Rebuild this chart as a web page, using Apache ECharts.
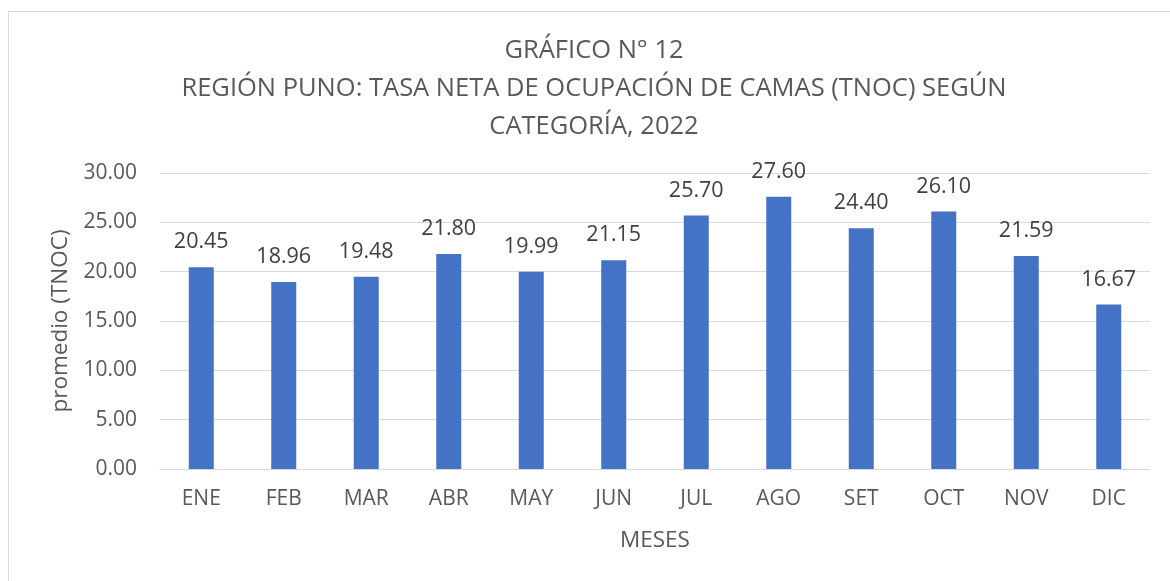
<!DOCTYPE html>
<html>
<head>
<meta charset="utf-8">
<script src="https://cdn.jsdelivr.net/npm/echarts@6/dist/echarts.min.js"></script>
<style>
  html, body { margin: 0; padding: 0; background: #fff; }
  #frame { position: absolute; left: 8px; top: 11px; width: 1180px; height: 600px; border: 1px solid #d9d9d9; box-sizing: border-box; }
  #chart { width: 1170px; height: 581px; position: absolute; left: 0; top: 0; }
</style>
</head>
<body>
<div id="frame"></div>
<div id="chart"></div>
<script>
var months = ['ENE', 'FEB', 'MAR', 'ABR', 'MAY', 'JUN', 'JUL', 'AGO', 'SET', 'OCT', 'NOV', 'DIC'];
var tnoc = [20.45, 18.96, 19.48, 21.80, 19.99, 21.15, 25.70, 27.60, 24.40, 26.10, 21.59, 16.67];

!function(){
    var myChart = echarts.init(document.getElementById('chart'));
    var font = '"Open Sans", sans-serif';
    var option = {
        backgroundColor: 'transparent',
        title: {
            text: 'GRÁFICO N° 12\nREGIÓN PUNO: TASA NETA DE OCUPACIÓN DE CAMAS (TNOC) SEGÚN\nCATEGORÍA, 2022',
            left: 589,
            top: 27,
            textAlign: 'center',
            textStyle: {
                color: '#595959',
                fontFamily: font,
                fontWeight: 'normal',
                fontSize: 25.5,
                lineHeight: 38
            }
        },
        grid: { left: 160, right: 20, top: 173, bottom: 112, containLabel: false },
        xAxis: {
            type: 'category',
            data: months,
            name: 'MESES',
            nameLocation: 'middle',
            nameGap: 60,
            nameTextStyle: { color: '#595959', fontFamily: font, fontSize: 22.5 },
            axisLine: { lineStyle: { color: '#d9d9d9', width: 1 } },
            axisTick: { show: false },
            axisLabel: { color: '#595959', fontFamily: font, fontSize: 21, margin: 20 }
        },
        yAxis: {
            type: 'value',
            min: 0,
            max: 30,
            interval: 5,
            name: 'promedio (TNOC)',
            nameLocation: 'middle',
            nameGap: 86,
            nameTextStyle: { color: '#595959', fontFamily: font, fontSize: 22.5 },
            axisLine: { show: false },
            axisTick: { show: false },
            splitLine: { lineStyle: { color: '#d9d9d9', width: 1 } },
            axisLabel: {
                color: '#595959', fontFamily: font, fontSize: 21, margin: 23,
                formatter: function (v) { return v.toFixed(2); }
            }
        },
        series: [{
            type: 'bar',
            data: tnoc,
            barWidth: 25,
            itemStyle: { color: '#4472C4' },
            label: {
                show: true,
                position: 'top',
                distance: 14,
                color: '#404040',
                fontFamily: font,
                fontSize: 21.5,
                formatter: function (p) { return p.value.toFixed(2); }
            }
        }]
    };
    myChart.setOption(option);
}.call()
</script>
</body>
</html>
